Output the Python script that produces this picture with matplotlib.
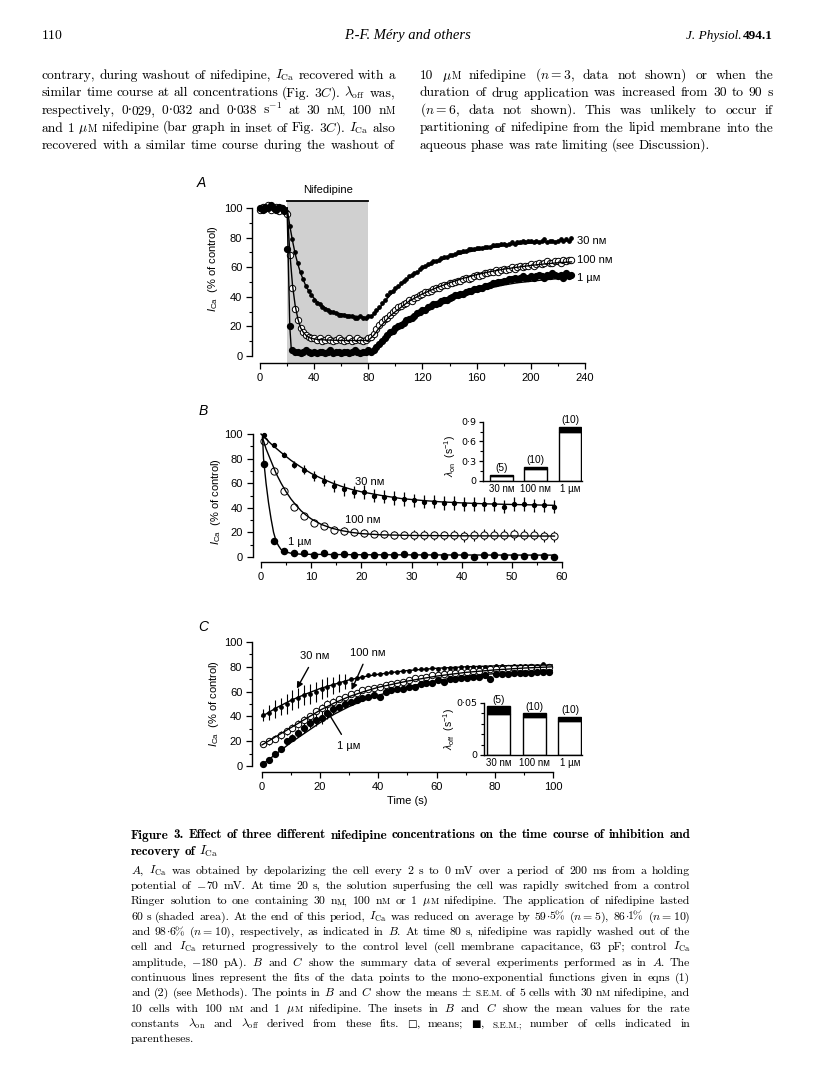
import numpy as np
import matplotlib
matplotlib.use('Agg')
import matplotlib.pyplot as plt
from matplotlib.ticker import MultipleLocator

W, H = 816, 1088
SANS = ['Liberation Sans', 'DejaVu Sans']
SERIF = ['cmr10', 'DejaVu Serif', 'DejaVu Sans']
BOLD = ['cmb10', 'DejaVu Serif', 'DejaVu Sans']
UNI = ['DejaVu Serif', 'DejaVu Sans']
plt.rcParams['font.family'] = SANS
plt.rcParams['mathtext.fontset'] = 'custom'
plt.rcParams['mathtext.rm'] = 'Liberation Sans'
plt.rcParams['mathtext.it'] = 'Liberation Sans:italic'
plt.rcParams['axes.unicode_minus'] = False
plt.rcParams['axes.linewidth'] = 1.0

# ---------------- data: panel A (one sweep every 2 s) ----------------
tA = np.arange(0, 232, 2)
a30 = [100, 101, 99, 102, 100, 101, 99, 100, 98, 99,
       97, 88, 79, 70, 63, 57, 52, 47, 44, 41,
       38, 36, 35, 33, 32, 31, 30, 30, 29, 28,
       28, 28, 27, 27, 27, 26, 26, 27, 26, 26,
       27, 27, 29, 31, 33, 36, 38, 41, 43, 44,
       46, 47, 49, 51, 52, 54, 55, 56, 57, 59,
       60, 61, 62, 63, 64, 64, 65, 66, 67, 67,
       68, 68, 69, 70, 70, 71, 71, 72, 72, 72,
       73, 73, 73, 74, 74, 74, 75, 75, 75, 76,
       76, 75, 76, 77, 76, 77, 77, 78, 77, 78,
       78, 77, 78, 77, 78, 79, 77, 78, 78, 77,
       78, 79, 78, 79, 78, 80]
a100 = [99, 101, 100, 102, 99, 100, 101, 98, 100, 99,
        96, 68, 46, 32, 24, 19, 16, 14, 13, 12,
        12, 11, 12, 10, 11, 12, 11, 10, 11, 12,
        11, 10, 11, 12, 10, 11, 12, 11, 10, 11,
        12, 13, 15, 18, 21, 23, 25, 26, 28, 30,
        31, 33, 34, 35, 36, 38, 37, 39, 40, 41,
        42, 43, 43, 44, 45, 46, 46, 47, 48, 48,
        49, 49, 50, 51, 51, 52, 53, 52, 53, 54,
        55, 54, 55, 56, 56, 57, 57, 58, 57, 58,
        59, 58, 59, 60, 59, 60, 61, 60, 61, 61,
        62, 61, 62, 63, 62, 63, 64, 63, 63, 64,
        64, 63, 65, 64, 65, 65]
a1 = [100, 99, 101, 100, 102, 100, 99, 101, 100, 98,
      72, 20, 4, 3, 3, 2, 3, 4, 3, 2,
      3, 2, 3, 3, 2, 3, 4, 2, 3, 3,
      2, 3, 3, 2, 3, 4, 3, 2, 3, 3,
      4, 3, 4, 6, 8, 10, 12, 14, 16, 17,
      19, 20, 21, 22, 24, 25, 26, 27, 29, 30,
      31, 31, 33, 34, 35, 35, 36, 37, 38, 38,
      39, 40, 41, 41, 42, 42, 43, 44, 44, 45,
      45, 46, 46, 47, 47, 48, 49, 49, 50, 50,
      51, 51, 52, 52, 53, 52, 53, 54, 53, 53,
      54, 53, 54, 55, 54, 53, 55, 54, 56, 55,
      54, 55, 53, 56, 54, 55]

fitA_on_t30 = [20, 22, 24, 26, 28, 30, 34, 38, 42, 46, 50, 55, 60, 65, 70, 75, 80]
fitA_on_v30 = [100, 88, 78, 69, 62, 56, 47, 41, 37, 34, 31.5, 29.5, 28.5, 27.5, 27, 26.5, 26]
fitA_on_t100 = [20, 22, 24, 26, 28, 30, 32, 34, 36, 40, 45, 50, 60, 70, 80]
fitA_on_v100 = [100, 70, 48, 34, 25, 19, 16, 14, 12.5, 11.5, 11, 10.8, 10.5, 10.5, 10.5]
fitA_on_t1 = [20, 21, 22, 23, 24, 26, 40, 60, 80]
fitA_on_v1 = [100, 60, 20, 6, 3.5, 3, 2.8, 2.8, 2.8]
fitA_off_t = [80, 84, 88, 92, 96, 100, 110, 120, 130, 140, 150, 160, 170, 180, 190, 200, 210, 220, 230]
fitA_off_v30 = [26, 28, 32, 37, 41, 45, 53, 59, 63.5, 67, 69.5, 71.5, 73, 74.5, 75.5, 76.3, 77, 77.5, 78]
fitA_off_v100 = [10.5, 14, 19, 23, 27, 30, 37, 42, 46, 49.5, 52.5, 55, 57, 58.7, 60, 61.2, 62.2, 63, 63.6]
fitA_off_t1 = [84, 88, 92, 96, 100, 110, 120, 130, 140, 150, 160, 170, 180, 190, 200, 210, 220, 230]
fitA_off_v1 = [3, 7, 11, 15, 18.5, 25, 30.5, 35, 38.5, 41.5, 44, 46, 48, 49.5, 50.5, 51.5, 52.3, 53]

# ---------------- data: panel B (onset, mean +/- s.e.m.) ----------------
tB = np.arange(0.5, 59, 2)
b30 = [99, 91, 83, 75, 71, 66, 62, 58, 55, 53, 53, 50, 49, 48, 47,
       46, 45, 45, 44, 44, 43, 43, 43, 43, 41, 43, 43, 42, 42, 41]
b30_sem = [1, 1.5, 2, 3, 3.5, 4, 4.5, 5, 5, 5, 5.5, 5.5, 5.5, 5.5, 5.5,
           5.5, 5.5, 5.5, 5.5, 5.5, 5.5, 5.5, 5.5, 5.5, 5.5, 5.5, 5.5, 5.5, 5.5, 5.5]
b100 = [94, 70, 54, 41, 33, 28, 25, 22, 21, 20, 19.5, 19, 18.5, 18, 18,
        18, 18, 17.5, 17.5, 18, 17, 17.5, 18, 18, 18, 18.5, 18, 18, 17, 17]
b100_sem = [1, 2, 2, 2, 2.5, 2.5, 2.5, 3, 3, 3, 3, 3, 3, 3.5, 3.5,
            4, 4, 4, 4, 4, 4.5, 4.5, 4.5, 4.5, 4.5, 4.5, 4.5, 4.5, 4.5, 4.5]
b1 = [76, 13, 5, 3, 3, 2, 3, 2, 2.5, 2, 2, 2, 2, 2, 2.5,
      2, 2, 2, 1, 2, 1.5, 0, 1.5, 1.5, 1, 1, 1, 0.5, 1, 0]
b1_sem = [2, 1.5, 1, 1, 1, 1, 1, 1, 1, 1, 1, 1, 1, 1, 1,
          1, 1, 1, 1, 1, 1, 1, 1, 1, 1, 1, 1, 1, 1, 1]
fitB_t30 = [0, 2, 4, 6, 8, 10, 12, 14, 16, 18, 20, 24, 28, 32, 36, 40, 45, 50, 55, 58.5]
fitB_v30 = [100, 92, 85, 78.5, 73, 68, 64, 60.5, 57.5, 55, 53, 50, 47.5, 46, 44.8, 44, 43.2, 42.7, 42.3, 42]
fitB_t100 = [0.3, 1, 2, 3, 4, 5, 6, 7, 8, 9, 10, 12, 14, 16, 18, 20, 24, 30, 40, 58.5]
fitB_v100 = [97, 88, 78, 68, 60, 53, 47, 42, 37.5, 34, 31, 26.5, 23.5, 21.5, 20, 19, 18, 17.5, 17.2, 17]
fitB_t1 = [0.3, 0.5, 1, 1.5, 2, 2.5, 3, 3.5, 4, 5, 6, 8, 20, 40, 58.5]
fitB_v1 = [98, 80, 60, 44, 31, 20, 13, 9, 6, 4, 3, 2.2, 1.8, 1.6, 1.5]

# inset B: lambda_on (s-1)
conc = ['30 nᴍ', '100 nᴍ', '1 µᴍ']
lam_on = [0.075, 0.18, 0.75]
lam_on_sem = [0.015, 0.025, 0.065]
n_cells = ['(5)', '(10)', '(10)']

# ---------------- data: panel C (washout, mean +/- s.e.m.) ----------------
tC = np.arange(0.5, 100, 2)
c30 = [41, 43, 46, 48, 50, 53, 55, 57, 58, 60, 62, 64, 65, 67, 68,
       70, 71, 72, 73, 74, 74, 75, 76, 76, 77, 77, 78, 78, 78, 79,
       78, 79, 79, 79, 80, 80, 80, 80, 80, 80, 81, 81, 80, 81, 81,
       81, 81, 81, 82, 81]
c30_sem = [5, 6, 7, 7, 8, 8, 8, 8, 8, 8, 8, 8, 7, 7, 6,
           1, 1, 1, 1, 1, 1, 1, 1, 1, 1, 1, 1, 1, 1, 1,
           1, 1, 1, 1, 1, 1, 1, 1, 1, 1, 1, 1, 1, 1, 1,
           1, 1, 1, 1, 1]
c100 = [18, 20, 22, 25, 28, 31, 34, 37, 40, 44, 47, 50, 52, 54, 56,
        58, 59, 61, 62, 63, 64, 65, 66, 67, 68, 69, 71, 71, 72, 73,
        73, 74, 75, 75, 76, 76, 77, 77, 77, 78, 78, 78, 79, 79, 79,
        79, 80, 79, 80, 80]
c100_sem = [2.5, 3, 3, 3, 3, 3, 3, 3, 3, 3, 3, 3, 2.5, 2.5, 2,
            1, 1, 1, 1, 1, 1, 1, 1, 1, 1, 1, 1, 1, 1, 1,
            1, 1, 1, 1, 1, 1, 1, 1, 1, 1, 1, 1, 1, 1, 1,
            1, 1, 1, 1, 1]
c1 = [2, 5, 10, 14, 20, 23, 27, 31, 35, 37, 39, 43, 46, 48, 50,
      52, 53, 55, 56, 57, 56, 60, 61, 62, 62, 64, 64, 66, 67, 67,
      69, 68, 70, 70, 71, 71, 72, 72, 73, 70, 74, 74, 74, 75, 75,
      75, 75, 76, 76, 76]
c1_sem = [1, 1, 1.5, 2, 2, 3, 3, 4, 4, 5, 5, 5, 4, 2, 1.5,
          1, 1, 1, 1, 1, 1, 1, 1, 1, 1, 1, 1, 1, 1, 1,
          1, 1, 1, 1, 1, 1, 1, 1, 1, 1, 1, 1, 1, 1, 1,
          1, 1, 1, 1, 1]
fitC_t = [0, 5, 10, 15, 20, 25, 30, 35, 40, 50, 60, 70, 80, 90, 100]
fitC_v30 = [40, 47, 53, 58, 62.5, 66, 69.5, 72, 74, 77, 78.8, 80, 80.7, 81.2, 81.5]
fitC_v100 = [17, 24, 31, 38, 45, 51, 56, 60, 63.5, 68.5, 72.5, 75.5, 77.5, 79, 80]
fitC_v1 = [1, 10, 19, 27, 35, 42, 48, 53, 57, 64, 69, 72.5, 74.5, 76, 77]

# inset C: lambda_off (s-1)
lam_off = [0.039, 0.037, 0.033]
lam_off_sem = [0.008, 0.003, 0.004]

# ---------------- page text ----------------
# '|' joins pieces of one word, '~' marks a small-capital piece
NM = 'n|~M'
UM = '$\\mu$|~M'
left_col = [
    "contrary, during washout of nifedipine, $I_{\\mathrm{Ca}}$ recovered with a",
    "similar time course at all concentrations (Fig. 3$C$). $\\lambda_{\\mathrm{off}}$ was,",
    "respectively, 0·029, 0·032 and 0·038 s$^{-1}$ at 30 NM, 100 NM".replace('NM', NM),
    "and 1 UM nifedipine (bar graph in inset of Fig. 3$C$). $I_{\\mathrm{Ca}}$ also".replace('UM', UM),
    "recovered with a similar time course during the washout of",
]
right_col = [
    "10 UM nifedipine ($n=3$, data not shown) or when the".replace('UM', UM),
    "duration of drug application was increased from 30 to 90 s",
    "($n=6$, data not shown). This was unlikely to occur if",
    "partitioning of nifedipine from the lipid membrane into the",
    "aqueous phase was rate limiting (see Discussion).",
]
title_lines = [
    "Figure 3. Effect of three different nifedipine concentrations on the time course of inhibition and",
    "recovery of $I_{\\mathrm{Ca}}$",
]
caption = [
    "$A$, $I_{\\mathrm{Ca}}$ was obtained by depolarizing the cell every 2 s to 0 mV over a period of 200 ms from a holding",
    "potential of $-$|70 mV. At time 20 s, the solution superfusing the cell was rapidly switched from a control",
    "Ringer solution to one containing 30 NM, 100 NM or 1 UM nifedipine. The application of nifedipine lasted",
    "60 s (shaded area). At the end of this period, $I_{\\mathrm{Ca}}$ was reduced on average by 59·5% ($n=5$), 86·1% ($n=10$)",
    "and 98·6% ($n=10$), respectively, as indicated in $B$. At time 80 s, nifedipine was rapidly washed out of the",
    "cell and $I_{\\mathrm{Ca}}$ returned progressively to the control level (cell membrane capacitance, 63 pF; control $I_{\\mathrm{Ca}}$",
    "amplitude, $-$|180 pA). $B$ and $C$ show the summary data of several experiments performed as in $A$. The",
    "continuous lines represent the fits of the data points to the mono-exponential functions given in eqns (1)",
    "and (2) (see Methods). The points in $B$ and $C$ show the means $\\pm$ ~S.E.M. of 5 cells with 30 NM nifedipine, and",
    "10 cells with 100 NM and 1 UM nifedipine. The insets in $B$ and $C$ show the mean values for the rate",
    "constants $\\lambda_{\\mathrm{on}}$ and $\\lambda_{\\mathrm{off}}$ derived from these fits. □, means; ■, ~S.E.M.; number of cells indicated in",
    "parentheses.",
]
caption = [c.replace('NM', NM).replace('UM', UM) for c in caption]

fig = plt.figure(figsize=(W / 100, H / 100), dpi=100)
rend = fig.canvas.get_renderer()


def box(l, t, r, b):
    return [l / W, 1 - b / H, (r - l) / W, (b - t) / H]


def make_word(tok, fam):
    parts = []
    for seg in tok.split('|'):
        rel = 1.0
        if seg.startswith('~'):
            seg, rel = seg[1:], 0.76
        if '$' in seg:
            runs = [(seg, fam, 1.0)]
        else:
            runs = []
            for ch in seg:
                f, sc = (fam, 1.0) if ord(ch) < 128 else (UNI, 0.86)
                if runs and runs[-1][1] is f:
                    runs[-1] = (runs[-1][0] + ch, f, sc)
                else:
                    runs.append((ch, f, sc))
        for s, f, sc in runs:
            t = fig.text(0, 0, s, family=f, math_fontfamily='cm', va='baseline', ha='left')
            parts.append((t, rel * sc))
    return parts


def set_size(words, size):
    widths = []
    for parts in words:
        w = 0
        for t, rel in parts:
            t.set_fontsize(size * rel)
            w += t.get_window_extent(rend).width
        widths.append(w)
    return widths


def block(lines, ys, x0, x1, fam, max_size, justify):
    # one font size for the block, chosen so the tightest justified line fits
    allw = [[make_word(tok, fam) for tok in line.split(' ')] for line in lines]
    s0 = 10.0
    ratios = []
    for words, j in zip(allw, justify):
        if j:
            wsum = sum(set_size(words, s0))
            nat = wsum + (len(words) - 1) * 0.3 * s0 * 100 / 72
            ratios.append((x1 - x0) / nat)
    size = min(max_size, s0 * min(ratios))
    for words, y, j in zip(allw, ys, justify):
        widths = set_size(words, size)
        gap = 0.3 * size * 100 / 72
        if j and len(words) > 1:
            gap = (x1 - x0 - sum(widths)) / (len(words) - 1)
        x = x0
        for parts, w in zip(words, widths):
            xx = x
            for t, rel in parts:
                t.set_position((xx / W, 1 - y / H))
                xx += t.get_window_extent(rend).width
            x += w + gap
    return size


def style(ax, xb, yb):
    ax.spines['top'].set_visible(False)
    ax.spines['right'].set_visible(False)
    ax.spines['left'].set_bounds(*yb)
    ax.spines['bottom'].set_bounds(*xb)
    ax.tick_params(direction='out', length=4, width=0.9, labelsize=8, pad=3)
    ax.tick_params(which='minor', direction='out', length=2.5, width=0.8)
    ax.patch.set_alpha(0)


# header
fig.text(42 / W, 1 - 39 / H, '110', fontsize=10, family=SERIF, va='baseline')
fig.text(408 / W, 1 - 39 / H, 'P.-F. Méry and others', fontsize=10.5,
         family='Liberation Serif', style='italic', ha='center', va='baseline')
vol = fig.text(773 / W, 1 - 39 / H, '494.1', fontsize=9.5, family='Liberation Serif',
               weight='bold', ha='right', va='baseline')
vw = vol.get_window_extent(rend).width
fig.text((773 - vw - 2) / W, 1 - 39 / H, 'J. Physiol.', fontsize=9.5,
         family='Liberation Serif', style='italic', ha='right', va='baseline')

ys_top = [79 + 17.5 * i for i in range(5)]
sz = block(left_col, ys_top, 42, 395, SERIF, 10.5, [True] * 5)
block(right_col, ys_top, 420, 773, SERIF, sz, [True, True, True, True, False])

# ---------------- panel A ----------------
axA = fig.add_axes(box(252, 196.2, 585, 363.4))
axA.set_xlim(-5.9, 240)
axA.set_ylim(-5, 108)
axA.fill_between([20, 80], -5, 105, color='#d0d0d0', lw=0, zorder=0)
axA.plot([20, 80], [105, 105], color='k', lw=1.3, clip_on=False)
axA.text(50, 112.5, 'Nifedipine', ha='center', va='center', fontsize=8, clip_on=False)
axA.plot(tA, a30, 'o', ms=2.4, color='k', zorder=3)
axA.plot(tA, a100, 'o', ms=4.6, mfc='white', mec='k', mew=0.7, zorder=3)
axA.plot(tA, a1, 'o', ms=4.2, color='k', zorder=3)
for ft, fv in [(fitA_on_t30, fitA_on_v30), (fitA_on_t100, fitA_on_v100),
               (fitA_on_t1, fitA_on_v1), (fitA_off_t, fitA_off_v30),
               (fitA_off_t, fitA_off_v100), (fitA_off_t1, fitA_off_v1)]:
    axA.plot(ft, fv, color='k', lw=1.0, zorder=4)
axA.set_xticks(range(0, 241, 40))
axA.xaxis.set_minor_locator(MultipleLocator(20))
axA.set_yticks(range(0, 101, 20))
axA.yaxis.set_minor_locator(MultipleLocator(10))
style(axA, (0, 240), (0, 100))
axA.text(234, 78, '30 nᴍ', fontsize=8, va='center')
axA.text(234, 65, '100 nᴍ', fontsize=8, va='center')
axA.text(234, 53, '1 µᴍ', fontsize=8, va='center')

# ---------------- panel B ----------------
axB = fig.add_axes(box(252.5, 427.9, 562, 562))
axB.set_xlim(-1.7, 60)
axB.set_ylim(-4.1, 105)
axB.errorbar(tB, b30, yerr=b30_sem, fmt='o', ms=2.8, color='k', elinewidth=0.9, capsize=0, zorder=3)
axB.errorbar(tB, b100, yerr=b100_sem, fmt='o', ms=5.2, mfc='white', mec='k', mew=0.7,
             ecolor='k', elinewidth=0.8, capsize=0, zorder=3)
axB.errorbar(tB, b1, yerr=b1_sem, fmt='o', ms=4.4, color='k', elinewidth=0.8, capsize=0, zorder=3)
for ft, fv in [(fitB_t30, fitB_v30), (fitB_t100, fitB_v100), (fitB_t1, fitB_v1)]:
    axB.plot(ft, fv, color='k', lw=1.0, zorder=4)
axB.set_xticks(range(0, 61, 10))
axB.xaxis.set_minor_locator(MultipleLocator(5))
axB.set_yticks(range(0, 101, 20))
axB.yaxis.set_minor_locator(MultipleLocator(10))
style(axB, (0, 60), (0, 100))
axB.text(21.6, 61, '30 nᴍ', fontsize=8, ha='center', va='center')
axB.text(20.2, 30, '100 nᴍ', fontsize=8, ha='center', va='center')
axB.text(7.8, 12, '1 µᴍ', fontsize=8, ha='center', va='center')

# inset B
axBi = fig.add_axes(box(483, 421.7, 582, 481))
axBi.set_xlim(-0.536, 2.35)
axBi.set_ylim(0, 0.9)
xs = np.arange(len(conc))
axBi.bar(xs, lam_on, width=0.66, color='white', edgecolor='k', lw=1.0)
axBi.bar(xs, lam_on_sem, bottom=lam_on, width=0.66, color='k', edgecolor='k', lw=1.0)
for i in range(len(conc)):
    axBi.text(xs[i], lam_on[i] + lam_on_sem[i] + 0.035, n_cells[i], ha='center',
              va='bottom', fontsize=7.3, clip_on=False)
axBi.set_xticks(xs)
axBi.set_xticklabels(conc)
axBi.set_yticks([0, 0.3, 0.6, 0.9])
axBi.set_yticklabels(['0', '0·3', '0·6', '0·9'], family='DejaVu Sans')
axBi.yaxis.set_minor_locator(MultipleLocator(0.15))
style(axBi, (-0.536, 2.35), (0, 0.9))
axBi.tick_params(axis='x', length=0, pad=2.5, labelsize=7)
axBi.tick_params(axis='y', labelsize=6.8, pad=1.5, length=3)

# ---------------- panel C ----------------
axC = fig.add_axes(box(252, 635.8, 553, 772))
axC.set_xlim(-3.4, 100)
axC.set_ylim(-4.8, 105)
axC.errorbar(tC, c30, yerr=c30_sem, fmt='o', ms=2.4, color='k', elinewidth=0.8, capsize=0, zorder=3)
axC.errorbar(tC, c100, yerr=c100_sem, fmt='o', ms=4.6, mfc='white', mec='k', mew=0.7,
             ecolor='k', elinewidth=0.8, capsize=0, zorder=3)
axC.errorbar(tC, c1, yerr=c1_sem, fmt='o', ms=4.2, color='k', elinewidth=0.8, capsize=0, zorder=3)
for fv in [fitC_v30, fitC_v100, fitC_v1]:
    axC.plot(fitC_t, fv, color='k', lw=1.0, zorder=4)
axC.set_xticks(range(0, 101, 20))
axC.xaxis.set_minor_locator(MultipleLocator(10))
axC.set_yticks(range(0, 101, 20))
axC.yaxis.set_minor_locator(MultipleLocator(10))
style(axC, (0, 100), (0, 100))
arrow = dict(arrowstyle='-|>', color='k', lw=1.0, mutation_scale=9, shrinkA=3, shrinkB=0)
axC.annotate('30 nᴍ', xy=(12, 62.5), xytext=(18.2, 88.7), ha='center', va='center',
             fontsize=8, arrowprops=arrow)
axC.annotate('100 nᴍ', xy=(30.8, 61.3), xytext=(36.5, 91.4), ha='center', va='center',
             fontsize=8, arrowprops=arrow)
axC.annotate('1 µᴍ', xy=(22.2, 45.2), xytext=(29.7, 16.4), ha='center', va='center',
             fontsize=8, arrowprops=arrow)

# inset C
axCi = fig.add_axes(box(484, 703, 582, 755))
axCi.set_xlim(-0.42, 2.34)
axCi.set_ylim(0, 0.05)
axCi.bar(xs, lam_off, width=0.65, color='white', edgecolor='k', lw=1.0)
axCi.bar(xs, lam_off_sem, bottom=lam_off, width=0.65, color='k', edgecolor='k', lw=1.0)
for i in range(len(conc)):
    axCi.text(xs[i], lam_off[i] + lam_off_sem[i] + 0.0015, n_cells[i], ha='center',
              va='bottom', fontsize=7.3, clip_on=False)
axCi.set_xticks(xs)
axCi.set_xticklabels(conc)
axCi.set_yticks([0, 0.05])
axCi.set_yticklabels(['0', '0·05'], family='DejaVu Sans')
axCi.yaxis.set_minor_locator(MultipleLocator(0.01))
style(axCi, (-0.42, 2.34), (0, 0.05))
axCi.tick_params(axis='x', length=0, pad=2.5, labelsize=7)
axCi.tick_params(axis='y', labelsize=6.8, pad=1.5, length=3)

# panel letters and axis titles
for lab, x, y in [('A', 201, 183), ('B', 203, 411), ('C', 203, 627)]:
    fig.text(x / W, 1 - y / H, lab, fontsize=10, style='italic', ha='center', va='center')
ylab = '$I_{\\mathrm{Ca}}$  (% of control)'
for x, y in [(213, 268), (216, 501), (214, 703)]:
    fig.text(x / W, 1 - y / H, ylab, fontsize=8, rotation=90, ha='center', va='center')
fig.text(450 / W, 1 - 456 / H, '$\\lambda_{\\mathrm{on}}$  (s$^{-1}$)', fontsize=7.5,
         rotation=90, ha='center', va='center')
fig.text(449 / W, 1 - 729 / H, '$\\lambda_{\\mathrm{off}}$  (s$^{-1}$)', fontsize=7.5,
         rotation=90, ha='center', va='center')
fig.text(407 / W, 1 - 801 / H, 'Time (s)', fontsize=8, ha='center', va='center')

# caption
block(title_lines, [838.5, 855], 131, 690, BOLD, 9.5, [True, False])
block(caption, [873.5 + 15.35 * i for i in range(len(caption))], 131, 690, SERIF, 9.5,
      [True] * (len(caption) - 1) + [False])

fig.savefig('out.png', dpi=100)
